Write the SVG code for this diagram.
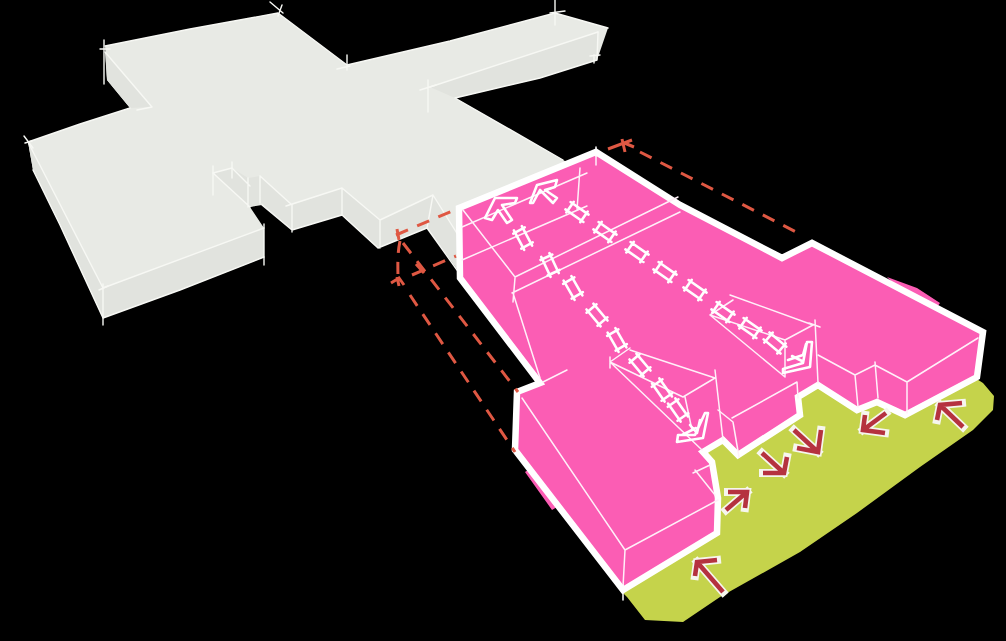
<svg xmlns="http://www.w3.org/2000/svg" width="1006" height="641" viewBox="0 0 1006 641">
<style>
.top{fill:#e8eae5}.side{fill:#e1e3de}
.gl{fill:none;stroke:#f7f8f4;stroke-width:1.4;stroke-linecap:round;stroke-linejoin:round}
.pl{fill:none;stroke:#fff0f9;stroke-width:1.5;stroke-linecap:round;stroke-linejoin:round}
.ho{fill:none;stroke:#fff;stroke-width:2.6;stroke-linejoin:round;stroke-linecap:round}
.rw{fill:none;stroke:#f6f6ee;stroke-width:8;stroke-linecap:square;stroke-linejoin:miter}
.rr{fill:none;stroke:#b5323f;stroke-width:4.6;stroke-linecap:butt;stroke-linejoin:miter}
.rd{fill:none;stroke:#df5843;stroke-width:3}
.dash{stroke-dasharray:13 10}
</style>
<defs>
<g id="rung" class="ho"><path d="M-11-4.5H11M-11 4.5H11M-8.5-6.5V6.5M8.5-6.5V6.5"/></g>
</defs>
<rect width="1006" height="641" fill="#000"/>

<g id="ground">
<path d="M627 597L645 620 683 622 720 597 800 552 857 513 920 467 973 430 993 410 994 396 983 383 900 330 700 440 620 590Z" fill="#c5d34b"/>
</g>

<g id="existing-building">
<path class="top" d="M105 46L190 29 278 13 347 65 450 41 555 13 608 28 597 60 540 78 455 98 563 160 600 180 458 270 427 228 378 248 342 215 292 230 262 205 250 207 264 228 264 257 180 290 103 318 60 225 33 170 28 142 80 124 130 108 107 80Z"/>
<path class="side" d="M430 87L598 32 597 60 540 78 455 98Z"/>
<path class="side" d="M105 52L152 107 130 108 107 80Z"/>
<path class="side" d="M28 142L103 288 103 318 60 225 33 170Z"/>
<path class="side" d="M103 288L264 228V257L180 290 103 318Z"/>
<path class="side" d="M213 173L232 168 248 178 260 176 292 205 342 188 380 220 433 195 458 235V270L427 228 378 248 342 215 292 230 262 203 250 207Z"/>
<g class="gl">
<path d="M105 46L190 29 278 13 347 65 450 41 555 13 608 28M598 32L597 60 540 78 455 98 563 160"/>
<path d="M430 87L598 32M105 52L152 107 137 110M28 142L103 288 264 228M28 142L80 124 130 108M33 170L60 225 103 318 180 290 264 257"/>
<path d="M213 173L232 168 250 186M213 173L250 207M248 178V207M260 176V203M260 176L292 205V232M262 205L292 230 342 215 378 248 427 228 457 270M286 206L342 188V215M342 188L380 220V248M380 220L433 195 458 235M433 195L427 228"/>
<path d="M270 2L283 13M282 5L278 16M104 40V84M100 49H110M24 136L33 148M25 143L32 141M103 284V325M99 290L108 286M264 224V265M213 166V195M232 162V178M347 55V70M337 69L350 66M428 80V112M420 90L436 85M555 0V25M550 13L565 11M594 55V63M590 56L600 55"/>
</g>
</g>

<g id="new-building">
<path d="M887 277L917 288 940 303 935 310 900 290ZM528 470L557 507 552 510 525 472Z" fill="#fb5db4"/>
<path d="M459 208L596 152 680 205 782 258 812 243 983 332 977 377 905 415 877 402 857 410 818 385 798 397 800 415 738 455 723 440 703 452 712 462 718 498 717 533 623 590 515 450 517 392 540 383 460 278Z" fill="#fb5db4" stroke="#fff" stroke-width="6.5" stroke-linejoin="miter"/>
<g class="pl">
<path d="M462 227L587 173M462 260L587 206M580 168L577 210M596 155V165M463 210L515 277M515 277L678 197M512 293L680 212M515 278L513 302M513 293L540 378M543 382L567 370"/>
<path d="M730 295L813 325 785 340 710 315 733 300M710 315L785 377M785 340V377M815 320L818 383M809 323L820 327"/>
<path d="M630 350L715 378 683 397 610 362 630 348M610 362L702 450M685 397L692 430M715 370L723 440M610 357V368"/>
<path d="M732 418L797 382 798 398M718 410L733 422 739 457"/>
<path d="M818 355L855 375 858 407M855 375L875 365M875 362L878 398M875 365L907 382V413M907 382L978 338"/>
<path d="M522 398L625 550 623 587M625 550L718 500M693 473L710 465M695 470L715 495"/>
<path d="M623 585V600M596 147V156" stroke="#fff"/>
</g>
</g>

<g id="circulation-paths">
<use href="#rung" transform="translate(577 212) rotate(35)"/>
<use href="#rung" transform="translate(605 232) rotate(35)"/>
<use href="#rung" transform="translate(637 252) rotate(35)"/>
<use href="#rung" transform="translate(665 272) rotate(35)"/>
<use href="#rung" transform="translate(695 290) rotate(35)"/>
<use href="#rung" transform="translate(723 312) rotate(35)"/>
<use href="#rung" transform="translate(750 328) rotate(35)"/>
<use href="#rung" transform="translate(775 343) rotate(40)"/>
<use href="#rung" transform="translate(523 238) rotate(62)"/>
<use href="#rung" transform="translate(550 265) rotate(65)"/>
<use href="#rung" transform="translate(573 288) rotate(60)"/>
<use href="#rung" transform="translate(597 315) rotate(50)"/>
<use href="#rung" transform="translate(617 340) rotate(60)"/>
<use href="#rung" transform="translate(640 365) rotate(50)"/>
<use href="#rung" transform="translate(662 390) rotate(55)"/>
<use href="#rung" transform="translate(678 410) rotate(55)"/>
<path class="ho" d="M485 218L495 198 517 198 515 203 502 205 512 220 507 223 498 210 492 220Z"/>
<path class="ho" d="M530 203L537 185 557 180 555 187 545 190 557 198 553 203 540 190 533 203Z"/>
<path class="ho" d="M807 342L812 342 810 367 783 373 783 369 803 363ZM788 360L803 355 806 344M792 356L802 361"/>
<path class="ho" d="M705 413L708 413 703 438 677 442 678 435 695 435ZM690 425L697 433 700 420M682 435L696 428"/>
</g>

<g id="approach-arrows">
<path class="rw" d="M695 576L697 562 717 560M697 562L723 592"/>
<path class="rr" d="M695 576L697 562 717 560M697 562L723 592"/>
<path class="rw" d="M728 492L747 492 745 508M747 492L726 510"/>
<path class="rr" d="M728 492L747 492 745 508M747 492L726 510"/>
<path class="rw" d="M763 473L784 473 787 457M784 473L762 453"/>
<path class="rr" d="M763 473L784 473 787 457M784 473L762 453"/>
<path class="rw" d="M797 448L818 452 821 430M818 452L794 430"/>
<path class="rr" d="M797 448L818 452 821 430M818 452L794 430"/>
<path class="rw" d="M865 415L863 430 885 433M863 430L886 413"/>
<path class="rr" d="M865 415L863 430 885 433M863 430L886 413"/>
<path class="rw" d="M937 420L940 405 962 403M940 405L963 427"/>
<path class="rr" d="M937 420L940 405 962 403M940 405L963 427"/>
</g>

<g id="dashed-extents">
<path class="rd dash" d="M640 152L800 234"/>
<path class="rd" d="M608 149L632 140M622 139L625 152M622 142L634 147"/>
<path class="rd dash" d="M396 235L457 209"/>
<path class="rd" d="M397 229L399 240"/>
<path class="rd dash" d="M412 275L456 256"/>
<path class="rd" d="M416 264L424 273"/>
<path class="rd" d="M391 283L399 278 404 285M397 277L399 286"/>
<path class="rd" stroke-dasharray="12 9" d="M400 241C397 255 398 268 398 280"/>
<path class="rd dash" d="M403 243L518 392"/>
<path class="rd dash" d="M410 295L515 452"/>
</g>
</svg>
